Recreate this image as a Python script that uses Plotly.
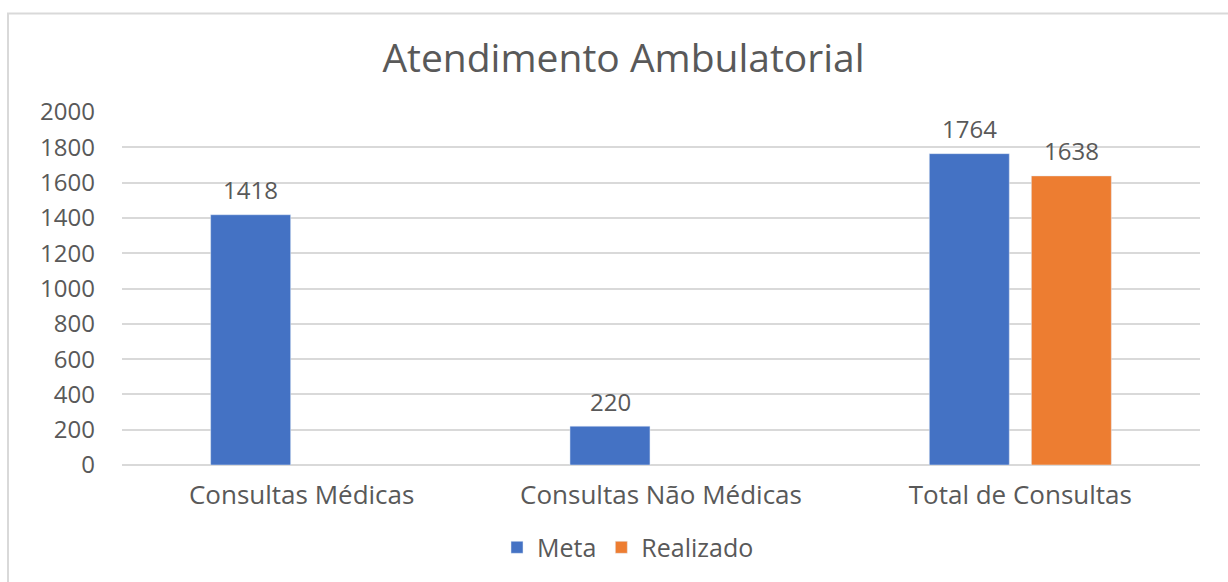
import plotly.graph_objects as go

categories = ["Consultas Médicas", "Consultas Não Médicas", "Total de Consultas"]
meta = [1418, 220, 1764]
realizado = [None, None, 1638]
y_ticks = [0, 200, 400, 600, 800, 1000, 1200, 1400, 1600, 1800, 2000]

FONT = "Open Sans"
GREY = "#595959"

fig = go.Figure()
fig.add_trace(go.Bar(name="Meta", x=categories, y=meta, marker_color="#4472C4"))
fig.add_trace(go.Bar(name="Realizado", x=categories, y=realizado, marker_color="#ED7D31"))

# data labels above each bar, placed at the bar's category/value
for values, dx in ((meta, -51), (realizado, 51)):
    for cat, v in zip(categories, values):
        if v is None:
            continue
        fig.add_annotation(x=cat, y=v, xref="x", yref="y", text=str(v),
                           showarrow=False, xshift=dx, yshift=25,
                           yanchor="middle", xanchor="center",
                           font=dict(size=24, color=GREY, family=FONT))

fig.update_layout(
    width=1228, height=582,
    margin=dict(l=122, r=28, t=112, b=115),
    paper_bgcolor="white", plot_bgcolor="white",
    font=dict(family=FONT, color=GREY, size=24),
    barmode="group", bargap=0.432, bargroupgap=0.216,
    title=dict(text="Atendimento Ambulatorial", x=623.5 / 1228, xanchor="center",
               y=1 - 58 / 582, yanchor="middle",
               font=dict(size=39, color=GREY, family=FONT)),
    showlegend=True,
    legend=dict(orientation="h", x=(628 - 122) / 1078, xanchor="center",
                y=(467 - 550) / 355, yanchor="middle",
                font=dict(size=25, color=GREY, family=FONT),
                tracegroupgap=0),
)
fig.update_yaxes(range=[0, 2000], tickvals=y_ticks, showgrid=True,
                 gridcolor="#D9D9D9", gridwidth=1.5, zeroline=True,
                 zerolinecolor="#D9D9D9", zerolinewidth=1.5,
                 showline=False, ticks="", ticklabelstandoff=26,
                 tickfont=dict(size=24, color=GREY, family=FONT))
fig.update_xaxes(showgrid=False, showline=False, ticks="",
                 ticklabelstandoff=12,
                 tickfont=dict(size=26, color=GREY, family=FONT))

fig.add_shape(type="rect", xref="paper", yref="paper",
              x0=(8 - 122) / 1078, x1=1.2, y0=-1, y1=(467 - 13) / 355,
              line=dict(color="#D9D9D9", width=2), fillcolor="rgba(0,0,0,0)",
              layer="below")

fig.write_html("out.html", config={"displayModeBar": False},
               post_script="document.body.style.margin='0px';")
